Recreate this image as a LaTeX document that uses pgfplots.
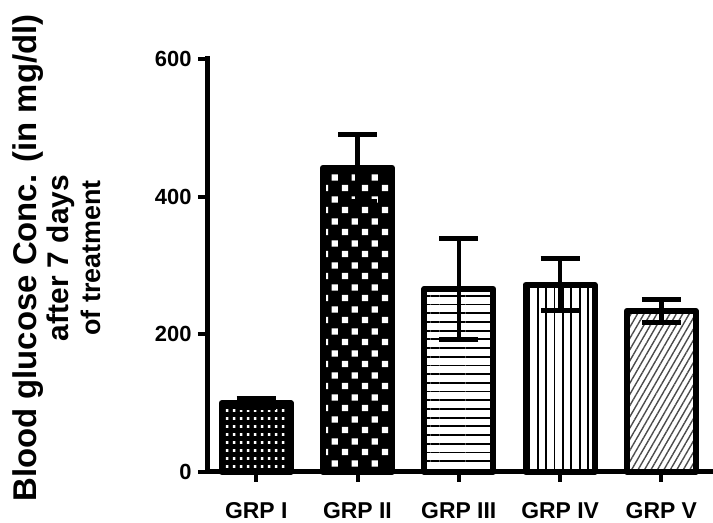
\documentclass[border=0pt]{standalone}
\usepackage{pgfplots}
\pgfplotsset{compat=1.18}
\usepackage{fontspec}
\setmainfont{Liberation Sans}
\usetikzlibrary{patterns,patterns.meta}

\pgfdeclarepatternformonly{grpone}{\pgfpointorigin}{\pgfpoint{7bp}{7.5bp}}{\pgfpoint{7bp}{7.5bp}}{%
  \pgfpathrectangle{\pgfpoint{2bp}{2.25bp}}{\pgfpoint{3bp}{3bp}}%
  \pgfusepath{fill}}
\pgfdeclarepatternformonly{grptwo}{\pgfpointorigin}{\pgfpoint{20bp}{22bp}}{\pgfpoint{20bp}{22bp}}{%
  \pgfpathrectangle{\pgfpoint{2bp}{2bp}}{\pgfpoint{6.5bp}{6.5bp}}%
  \pgfpathrectangle{\pgfpoint{12bp}{13bp}}{\pgfpoint{6.5bp}{6.5bp}}%
  \pgfusepath{fill}}

\begin{document}
\begin{tikzpicture}
\begin{axis}[
  scale only axis, width=502bp, height=413bp,
  xmin=-0.476, xmax=4.48, ymin=0, ymax=600,
  axis x line*=bottom, axis y line*=left,
  axis line style={line width=5bp, -, line cap=rect},
  xtick={0,1,2,3,4},
  xticklabels={GRP I, GRP II, GRP III, GRP IV, GRP V},
  ytick={0,200,400,600},
  tick align=outside, major tick length=10bp,
  tick style={line width=4bp, black},
  yticklabel style={font=\fontsize{22}{26}\selectfont\bfseries, xshift=-3bp},
  xticklabel style={font=\fontsize{23}{26}\selectfont\bfseries, yshift=-17bp},
  /pgf/number format/assume math mode=true,
  ylabel={\fontsize{33}{32}\selectfont Blood glucose Conc. (in mg/dl)\\after 7 days\\\fontsize{27}{32}\selectfont of treatment},
  ylabel style={at={(rel axis cs:-0.214,0.518)}, rotate=0, anchor=south, align=center, inner sep=0pt, font=\fontsize{30}{32}\selectfont\bfseries},
  clip=false,
]
\coordinate (O) at (rel axis cs:0,0);
% GRP I
\addplot[ybar, bar width=69bp, bar shift=0pt, draw=none, fill=black] coordinates {(0,100)};
\addplot[ybar, bar width=69bp, bar shift=0pt, draw=none, pattern=grpone, pattern color=white] coordinates {(0,100)};
% GRP II
\addplot[ybar, bar width=69bp, bar shift=0pt, draw=none, fill=black] coordinates {(1,442)};
\addplot[ybar, bar width=69bp, bar shift=0pt, draw=none, pattern=grptwo, pattern color=white] coordinates {(1,442)};
% GRP III
\addplot[ybar, bar width=69bp, bar shift=0pt, draw=none, pattern={Lines[angle=0,distance=8.7bp,line width=1.8bp]}, pattern color=black] coordinates {(2,266)};
% GRP IV
\addplot[ybar, bar width=69bp, bar shift=0pt, draw=none, pattern={Lines[angle=90,distance=8.4bp,line width=1.8bp]}, pattern color=black] coordinates {(3,272)};
% GRP V
\addplot[ybar, bar width=69bp, bar shift=0pt, draw=none, pattern={Lines[angle=60,distance=5.6bp,line width=1.4bp]}, pattern color=black!70] coordinates {(4,234)};
% outlines and error bars
\addplot[ybar, bar width=69bp, bar shift=0pt, draw=black, fill=none, line width=6bp, line join=round,
  error bars/.cd, y dir=both, y explicit,
  error bar style={line width=4.5bp, black},
  error mark options={rotate=90, line width=5bp, mark size=19.5bp, black}]
  coordinates {(0,100) +- (0,7) (1,442) +- (0,49) (2,266) +- (0,73) (3,272) +- (0,38) (4,234) +- (0,17)};
\end{axis}
\path ([xshift=-208bp,yshift=-48bp]O) rectangle ([xshift=505bp,yshift=472bp]O);
\end{tikzpicture}
\end{document}
